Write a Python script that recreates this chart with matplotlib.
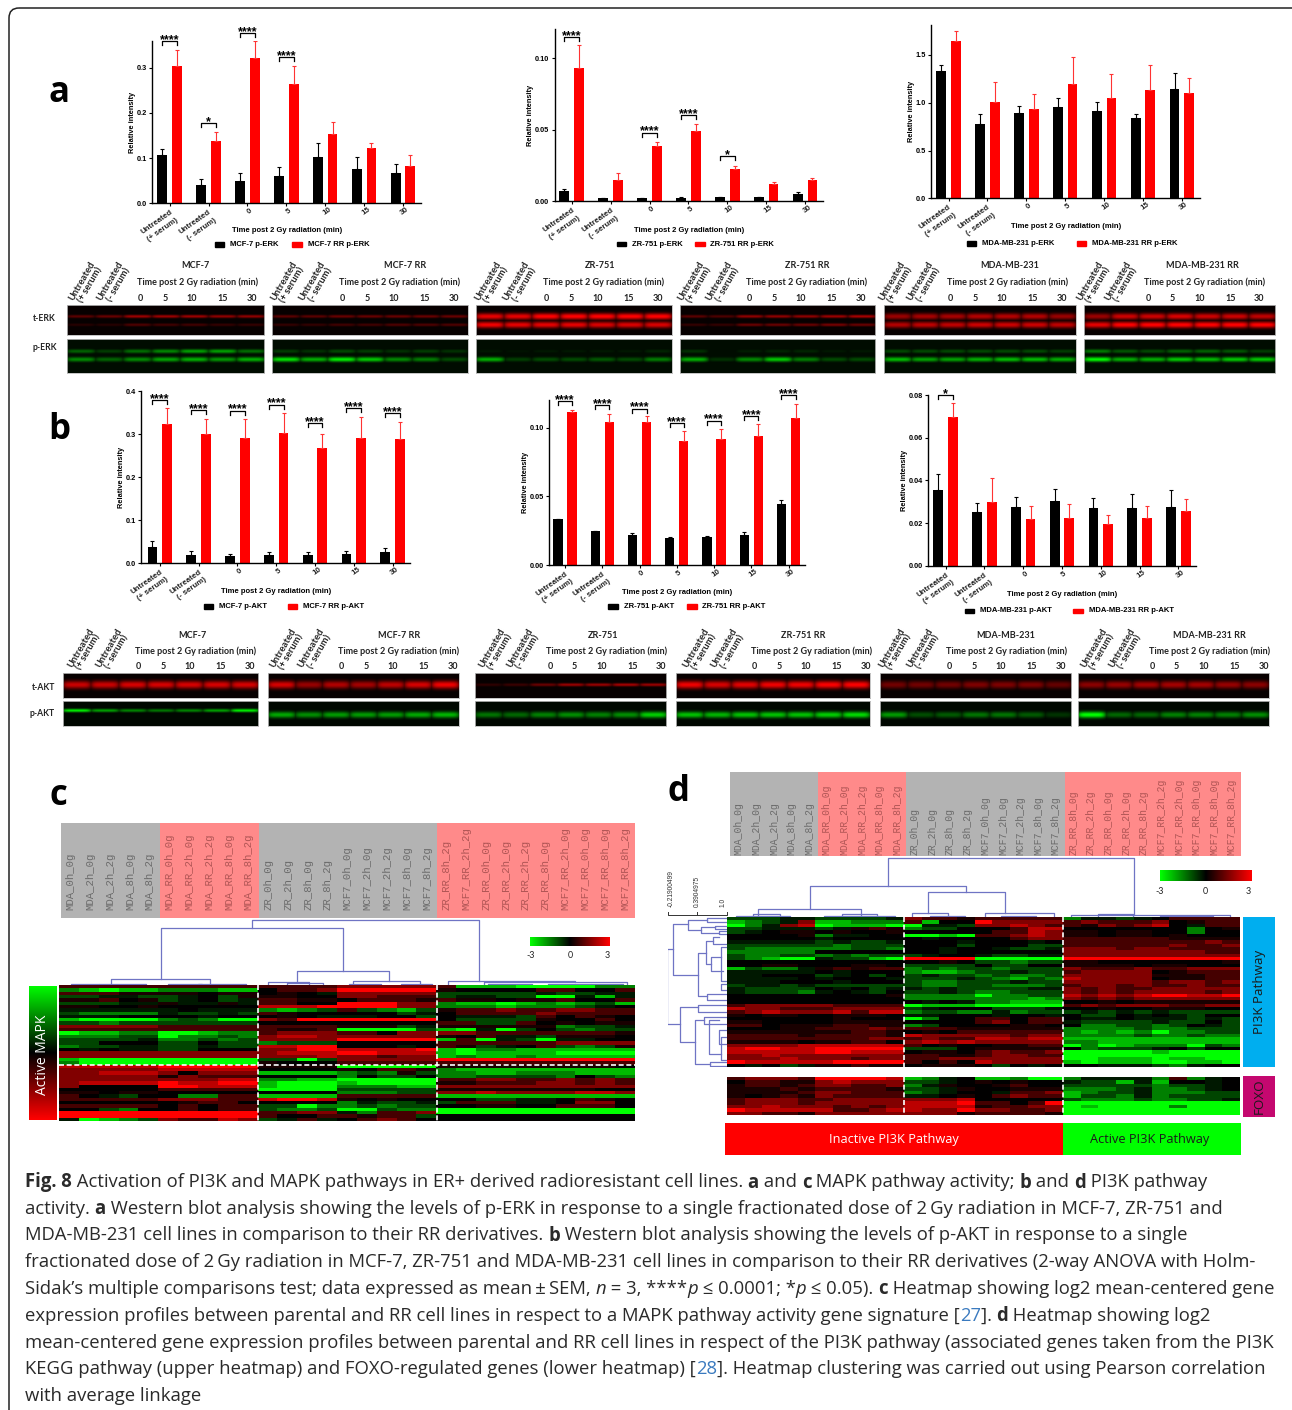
"""Recreate the multi-panel figure: bar charts, western blots, heatmaps, caption."""
import re

import matplotlib
matplotlib.use("Agg")
import matplotlib.pyplot as plt
import numpy as np
from matplotlib.colors import LinearSegmentedColormap
from matplotlib.patches import FancyBboxPatch, Rectangle
from matplotlib.transforms import ScaledTranslation

WIDTH, HEIGHT = 1292, 1410
BAR_FONT = "Liberation Sans"
BLOT_FONT = "Lato"
CAP_FONT = "Open Sans"
DENDRO = "#6f74c4"

CATEGORIES = ["Untreated\n(+ serum)", "Untreated\n(- serum)", "0", "5", "10", "15", "30"]
LANES = ["0", "5", "10", "15", "30"]
TIME_LABEL = "Time post 2 Gy radiation (min)"

# ---- panel a, p-ERK
ERK_MCF7_P = [0.107, 0.041, 0.050, 0.060, 0.102, 0.076, 0.066]
ERK_MCF7_P_TOP = [0.120, 0.054, 0.066, 0.080, 0.134, 0.103, 0.087]
ERK_MCF7_RR = [0.303, 0.137, 0.321, 0.265, 0.154, 0.123, 0.083]
ERK_MCF7_RR_TOP = [0.340, 0.157, 0.359, 0.305, 0.181, 0.133, 0.107]
ERK_MCF7_BR = [(0, 0.359, "****"), (1, 0.177, "*"), (2, 0.377, "****"), (3, 0.324, "****")]

ERK_ZR_P = [0.0072, 0.0021, 0.0021, 0.0024, 0.0028, 0.0028, 0.0054]
ERK_ZR_P_TOP = [0.0084, 0.0026, 0.0026, 0.0029, 0.0033, 0.0033, 0.0063]
ERK_ZR_RR = [0.0932, 0.0147, 0.0385, 0.0494, 0.0224, 0.0119, 0.0147]
ERK_ZR_RR_TOP = [0.1096, 0.0198, 0.0417, 0.0538, 0.0249, 0.0138, 0.0165]
ERK_ZR_BR = [(0, 0.115, "****"), (2, 0.048, "****"), (3, 0.0604, "****"), (4, 0.0315, "*")]

ERK_MDA_P = [1.327, 0.780, 0.892, 0.958, 0.910, 0.840, 1.140]
ERK_MDA_P_TOP = [1.390, 0.885, 0.970, 1.052, 1.003, 0.878, 1.310]
ERK_MDA_RR = [1.650, 1.007, 0.937, 1.200, 1.049, 1.129, 1.105]
ERK_MDA_RR_TOP = [1.750, 1.216, 1.094, 1.480, 1.296, 1.397, 1.258]

# ---- panel b, p-AKT
AKT_MCF7_P = [0.0365, 0.0194, 0.0160, 0.0186, 0.0186, 0.0200, 0.0264]
AKT_MCF7_P_TOP = [0.0505, 0.0280, 0.0210, 0.0250, 0.0256, 0.0280, 0.0357]
AKT_MCF7_RR = [0.324, 0.300, 0.291, 0.302, 0.268, 0.292, 0.288]
AKT_MCF7_RR_TOP = [0.360, 0.336, 0.335, 0.350, 0.300, 0.341, 0.329]
AKT_MCF7_BR = [(0, 0.380, "****"), (1, 0.357, "****"), (2, 0.355, "****"), (3, 0.369, "****"),
               (4, 0.325, "****"), (5, 0.360, "****"), (6, 0.349, "****")]

AKT_ZR_P = [0.0333, 0.0245, 0.0218, 0.0197, 0.0204, 0.0221, 0.0444]
AKT_ZR_P_TOP = [0.0335, 0.0250, 0.0235, 0.0206, 0.0211, 0.0243, 0.0476]
AKT_ZR_RR = [0.1114, 0.1044, 0.1044, 0.0903, 0.0922, 0.0939, 0.1070]
AKT_ZR_RR_TOP = [0.1131, 0.1102, 0.1083, 0.0978, 0.0988, 0.1029, 0.1175]
AKT_ZR_BR = [(0, 0.1197, "****"), (1, 0.1165, "****"), (2, 0.1140, "****"), (3, 0.1032, "****"),
             (4, 0.1053, "****"), (5, 0.1087, "****"), (6, 0.1238, "****")]

AKT_MDA_P = [0.0356, 0.0253, 0.0277, 0.0305, 0.0270, 0.0269, 0.0275]
AKT_MDA_P_TOP = [0.0430, 0.0294, 0.0320, 0.0361, 0.0316, 0.0334, 0.0353]
AKT_MDA_RR = [0.0695, 0.0297, 0.0219, 0.0225, 0.0195, 0.0222, 0.0258]
AKT_MDA_RR_TOP = [0.0764, 0.0411, 0.0281, 0.0291, 0.0239, 0.0278, 0.0311]
AKT_MDA_BR = [(0, 0.080, "*")]

# ---- blots: band intensity per lane, one list per blot
BLOT_NAMES = ["MCF-7", "MCF-7 RR", "ZR-751", "ZR-751 RR", "MDA-MB-231", "MDA-MB-231 RR"]
ERK_T_UPPER = [[.35, .4, .6, .6, .6, .55, .55], [.35, .35, .4, .4, .4, .4, .4],
               [.9, .9, 1, 1, 1, 1, 1], [.35, .3, .55, .55, .55, .6, .65],
               [.6, .65, .65, .7, .7, .7, .6], [.6, .8, .8, .85, .8, .8, .75]]
ERK_T_LOWER = [[.15, .15, .3, .25, .25, .2, .2], [.2, .2, .25, .25, .3, .3, .3],
               [.95, .9, .9, .9, .85, .85, .85], [.2, .2, .4, .4, .4, .45, .4],
               [.7, .75, .75, .8, .8, .8, .75], [.9, 1, 1, 1, 1, 1, 1]]
ERK_P_UPPER = [[.4, .25, .45, .55, .65, .65, .45], [.25, .2, .3, .25, .2, .25, .2],
               [.1, .08, .1, .1, .1, .1, .15], [.2, .05, .12, .15, .15, .1, .1],
               [.3, .3, .3, .3, .3, .3, .25], [.5, .35, .3, .4, .4, .35, .25]]
ERK_P_LOWER = [[.55, .4, .55, .65, .7, .6, .7], [.9, .7, .95, .8, .55, .5, .3],
               [.7, .25, .3, .3, .35, .3, .5], [.7, .2, .55, .8, .5, .3, .3],
               [.75, .65, .65, .7, .75, .75, .7], [1, .7, .7, .8, .75, .8, .8]]
AKT_T_BAND = [[.8, .8, .85, .85, .85, .85, .85], [.85, .6, .7, .65, .75, .85, .95],
              [.2, .25, .45, .65, .65, .7, .65], [.95, .85, .9, .95, .95, 1, 1],
              [.45, .45, .45, .5, .5, .5, .4], [.55, .6, .65, .65, .65, .6, .55]]
AKT_P_BAND = [[.9, .6, .5, .45, .5, .6, .9], [.65, .55, .6, .6, .6, .65, .7],
              [.45, .4, .5, .55, .5, .55, .8], [.75, .7, .75, .75, .75, .8, .85],
              [.6, .3, .35, .45, .45, .35, .2], [1, .4, .4, .5, .5, .5, .55]]

# ---- heatmaps: one letter per cell; upper case green, lower case red, '.' black
LEVELS = {"A": -3, "B": -2.2, "C": -1.5, "D": -0.8, "E": -0.3, ".": 0,
          "e": 0.3, "d": 0.8, "c": 1.5, "b": 2.2, "a": 3}
HEAT_C = [
    "ddddd ddddd dddd ccccc dBBBAAAACC",
    "CBABB CCCBB .ddc aaaaa e....dd..d",
    "dddee ee.ee .e.E ccccc DDDDDEDDEE",
    "DDEED DE.De ee.. ccddd DEEDDAAEBE",
    "eed.e DE.DE ddee .ddde dee.eed..d",
    "DDDEE eEEeE dd.. aaacc CBBABCBCDB",
    "ee..e ..... bbba aaacc CCCBCCCDE.",
    "EEEEE E.EEE CBCD dDCBD eddcddccdd",
    "DCCCC EDDED de.. ...DE .ddddcdddd",
    "EEE.. ..E.. .e.E EE..D .EEEDd.de.",
    "BAAAA CDCAA cdaa aaaaa .DDDDe..d.",
    "DDCDD DDDDD .... ..... ddDDd.e.ee",
    "ccccc ddddd dddd eeeDE eeeeeeCDDE",
    "ddddd ddddd deed AAAAD BAEAD.DCDD",
    "ABBCC AABCC dccc dd.cc ccddddddde",
    "CCCDD ACCDC cbbc ccccc e.dEEDeee.",
    "DDDDE CCDCD cccc aaaaa BdAEDAEE..",
    "DD... DD.DD CDDD ..... ddddddcccc",
    "CDDEE DDEDD bbaa ...E. deDE.dDCDe",
    ".E.EE DD... ccaa bbbba BACCBBBBBB",
    "ccccc ccccc cbbb aabbb BABBBBAAAA",
    "ccccc ccccc cccb ccdcc BCBBCBBBBB",
    "BAAAA AAAAA DDAD ccccc aaaaaaaaaa",
    "CAAAA AAAAA e... ddddd dddddddddd",
    "bbbbb aaaaa eeee AAAAA eeeeeeeee.",
    "ccccc bbbbb .... e.dde CBBBBBBBBB",
    "ccbbb c.ccc BBBB CDCeD CCBBCCCBBB",
    "ccccc ecddd .... C.DD. CCDDDDC.DC",
    "ccccc cccbb CCBB AAAAA ddccddcdcd",
    "cbbbb abbaa BAAA BAAAA eedddccdcd",
    "c.... aabbb BAAA CCCBB cccccccccc",
    "..... ddddd AAAA DDDDD eeeeeeee..",
    "ee.ee ..... .... CCCDD ccbccccbbc",
    "d.ED. .CCdd BBBB ddddd BBBBBBBBBB",
    "ddddd cccdd baab e.e.. ..DDEE.de.",
    "..... .edd. .... CEDDE DdddEE.cc.",
    "ddddd .d.dd DDAC CDCDD ..ee..ddd.",
    "..DC. .d.dd DCCD AADCC AAAAAAAAAA",
    "aaaaa aaaaa ddcc ECddc AAAAAAAAAA",
    "aaaaa aaaaa d..d deddD ..........",
    "EABCD cddbc DEdE .dcd. ..........",
]
HEAT_D = [
    "DDDEE DDDDE cdde ddddd CEEDE.dddd",
    "BCDEc BBCCC dB.. acccc dcdddc.edd",
    "ACEcb ABBBA AEED ccbcd decdcb.Edd",
    "DDEEE DEede CDD. ..dbb .......C.e",
    "DE.ee .e..e .... .ddbc ee.ee..C..",
    "....e CEE.. AABA ddcbc ee.ee.e...",
    "..... E.... .E.. ..dcc ddddddeeee",
    "EEEEE DEDDE ...E ...E. ddddddddcd",
    "DDDDD DCDDD ...D ...DD ddddddcddc",
    "DCCCC CCDDC ..E. .EDDE cccdccdddd",
    "CCCCC ..... ..E. ..... ccccccccdd",
    "DCCDD CDCDD DE.. EDDEE cccccccccc",
    "DCBAA EDDBA aaaa AAAAA aaaaaaaaaa",
    "..... ..... ..e. DDCDD ee.......e",
    "..ee. ..ee. DDDD .DD.. eeee.ee...",
    "BDCCE ededd CDCD DCDDD cdddcddccc",
    "EEEEE .E... CBBC DDEDD dcccc.eddd",
    "EE... DE.D. DEDD CDCCD ccccceeedd",
    "EEEE. E...E DDDE DCBDC bcccc.eedd",
    "EEE.. .E... DCCD DDEDD cccccdccdc",
    "DEEDE DDDDD DCCD DCCCD dccdcddcdd",
    "EDDDD .E.DE EDED DDDEE cdcddccccc",
    "EDDDC E.ED. DDED CCDDD cdcdccccdc",
    "..... ....e CCCC ACCDD bcbcbaabba",
    "..... ..... CCCC CCCBC cdcdcccccc",
    "..... ..... .E.E CCBBB ..e.eeeeee",
    "dcccc cdddd ABBB AAAAA dcdcccddcc",
    "bccdd dcccc DE.. .DDDE ..e..eee..",
    "dcbcc cbdbb CDDC CECDD DEDEDEDDDD",
    "e.ee. .eee. EE.. .E..E .DD.E.ED..",
    "..... .e... AC.. dd.dd .EE.EEEDED",
    "ee... .eeee .... dc.dd EDDDDEDD.D",
    "dd.ee eddee CD.. ..ee. .CCDDCD.ED",
    "...ee dddcd ddde eeeee CCCCDCCDDD",
    "eeeee eedde .e.d ddddd CBCBCACCDD",
    "dddde dddde bccc ccdcc CCCCDCCDCC",
    "ddddd dddcc dcdd bbcbb BBBBBBBBBB",
    "eeee. eedd. cbcb ccccc CCBBBBBBBB",
    "ccccb bbbbb d.e. .eedd ACABCCCADC",
    "baabb aaaaa DDD. eeeee .CDDDE.D..",
    "bbbbb aabbb .ee. dcddc AAAAABAAAA",
    "ccbcc ccccc ddee dccdd AAAAAAAAAA",
    "cccbc ccdcc ddcc ccccc AABBBABBAA",
    "abbbb baaaa d.d. bcccc BABBBAABBA",
    ".E.DE eedee .eee .D.E. ..EEEDCE..",
]
HEAT_FOXO = [
    "dcccd aaaab BCE. BBCAA CEEEECdCE.",
    ".ddee cbccc DDE. e.e.. EDDBEB..E.",
    "edded ccddc CEe. .ed.. DDDDDCDDE.",
    "eeede dddde DDEe ..eee CCCDECCDE.",
    "eeeed ccddd CDE. .Eddc BCDDECCCDD",
    "e.ede cdddd EE.e .dcdd BDDCECDDDD",
    "dcccd dcccc cccb ..... DCCCDCCDDE",
    "dcccd ccccc bbba dd.da AAAAAAAAAA",
    "ccbcc cdcdc bbbb eddcc ABAAAACAAA",
    "abbbb bddcb bcca ccddc AAAAAAAAAA",
    "ccdde ccccc ccce dddde AAAAAAAAAA",
]

LABELS_C = ["MDA_0h_0g", "MDA_2h_0g", "MDA_2h_2g", "MDA_8h_0g", "MDA_8h_2g",
            "MDA_RR_0h_0g", "MDA_RR_2h_0g", "MDA_RR_2h_2g", "MDA_RR_8h_0g", "MDA_RR_8h_2g",
            "ZR_0h_0g", "ZR_2h_0g", "ZR_8h_0g", "ZR_8h_2g",
            "MCF7_0h_0g", "MCF7_2h_0g", "MCF7_2h_2g", "MCF7_8h_0g", "MCF7_8h_2g",
            "ZR_RR_8h_2g", "MCF7_RR_2h_2g", "ZR_RR_0h_0g", "ZR_RR_2h_0g", "ZR_RR_2h_2g",
            "ZR_RR_8h_0g", "MCF7_RR_2h_0g", "MCF7_RR_0h_0g", "MCF7_RR_8h_0g", "MCF7_RR_8h_2g"]
LABELS_D = LABELS_C[:19] + ["ZR_RR_8h_0g", "ZR_RR_2h_2g", "ZR_RR_0h_0g", "ZR_RR_2h_0g", "ZR_RR_8h_2g",
                            "MCF7_RR_2h_2g", "MCF7_RR_2h_0g", "MCF7_RR_0h_0g", "MCF7_RR_8h_0g", "MCF7_RR_8h_2g"]
# column groups: grey, pink, grey, pink
GROUP_SPLITS = [0, 5, 10, 19, 29]

# dendrogram links: position a, position b, height, drop height at a, at b
DEND_C = [(9.72, 21.16, 65.6, 57, 4.6), (5.12, 14.32, 57, 6, 14.6), (2.63, 7.62, 6, 1, 1),
          (12.0, 16.6, 14.6, 3.3, 4.6), (0.6, 2.0, 1, 0, 0), (2.0, 4.4, 1.5, .5, 0),
          (5.5, 7.2, 1.5, 0, 0), (7.0, 9.4, 1.5, 0, 0), (10.5, 12.6, 3.3, 0, 0),
          (11.5, 13.3, 2, 0, 0), (14.8, 18.2, 4.6, 1.5, 1), (14.6, 16.2, 1.5, 0, 0),
          (17.2, 18.8, 1, 0, 0), (19.6, 26, 4.6, 0, 3), (21.4, 28.6, 3, 1.5, 1),
          (21.6, 23.8, 1.5, 0, 0), (24.6, 26.8, 1.5, 0, 0), (26.8, 28.4, 1, 0, 0)]
DEND_D = [(9.12, 23.03, 59, 31.3, 2.3), (4.69, 13.56, 31.3, 8, 25.6), (11.39, 15.75, 25.6, 4.6, 4.3),
          (1.77, 7.6, 8, 1.5, 1.5), (0.5, 3.6, 1.5, 0, 0), (1.5, 3, 3, 1.5, 0),
          (5.5, 9.5, 1.5, 0, 0), (6.5, 8.5, 3, 1.5, 0), (10.5, 12.5, 4.6, 0, 1.5),
          (11.5, 13.5, 1.5, 0, 0), (14.6, 18.5, 4.3, 0, 1), (15.5, 17.5, 1.5, 0, 0),
          (19.5, 28.5, 2.3, 0, 0), (21, 23, 3.5, 0, 0), (24.5, 27.5, 1.5, 0, 0)]
DEND_ROWS = [(9.6, 32.2, 59.3, 54, 46.3), (2.1, 17.3, 54, 38.3, 29), (27.1, 37.4, 46.3, 29, 31.3),
             (0.8, 3.8, 38.3, 20, 25.7), (10.8, 23.8, 29, 20.7, 20), (23, 25, 20, 0, 0),
             (30.8, 44.1, 31.3, 22.3, 16.7), (43.6, 44.6, 16.7, 0, 0), (0.3, 1.3, 20, 0, 0),
             (3, 4.6, 25.7, 12, 8), (2.6, 3.4, 12, 0, 0), (4.2, 5, 8, 0, 0),
             (7, 14, 20.7, 14, 16), (6, 8, 14, 8, 0), (12, 16, 16, 6, 4), (9, 19, 6, 0, 0),
             (26.5, 28.5, 29, 0, 0), (30, 32, 22.3, 0, 0), (31, 41, 18, 8, 6), (34, 38, 8, 0, 0),
             (36, 43, 6, 0, 0), (20, 22, 6, 0, 0)]

CAPTION = [
    "<b>Fig. 8</b> Activation of PI3K and MAPK pathways in ER+ derived radioresistant cell lines. <b>a</b> and <b>c</b> MAPK pathway activity; <b>b</b> and <b>d</b> PI3K pathway",
    "activity. <b>a</b> Western blot analysis showing the levels of p-ERK in response to a single fractionated dose of 2\u2009Gy radiation in MCF-7, ZR-751 and",
    "MDA-MB-231 cell lines in comparison to their RR derivatives. <b>b</b> Western blot analysis showing the levels of p-AKT in response to a single",
    "fractionated dose of 2\u2009Gy radiation in MCF-7, ZR-751 and MDA-MB-231 cell lines in comparison to their RR derivatives (2-way ANOVA with Holm-",
    "Sidak\u2019s multiple comparisons test; data expressed as mean\u2009\u00b1\u2009SEM, <i>n</i> = 3, ****<i>p</i> \u2264 0.0001; *<i>p</i> \u2264 0.05). <b>c</b> Heatmap showing log2 mean-centered gene",
    "expression profiles between parental and RR cell lines in respect to a MAPK pathway activity gene signature [<c>27</c>]. <b>d</b> Heatmap showing log2",
    "mean-centered gene expression profiles between parental and RR cell lines in respect of the PI3K pathway (associated genes taken from the PI3K",
    "KEGG pathway (upper heatmap) and FOXO-regulated genes (lower heatmap) [<c>28</c>]. Heatmap clustering was carried out using Pearson correlation",
    "with average linkage",
]

HEAT_CMAP = LinearSegmentedColormap.from_list("gbr", ["#00ff00", "#000000", "#ff0000"])


def px_axes(fig, x0, y0, x1, y1, **kwargs):
    return fig.add_axes([x0 / WIDTH, 1 - y1 / HEIGHT, (x1 - x0) / WIDTH, (y1 - y0) / HEIGHT], **kwargs)


def draw_bars(fig, box, first_tick, spacing, ymax, yticks, fmt, black, black_top, red, red_top, brackets=()):
    x0, x1, y_top, y_base = box
    ax = px_axes(fig, x0, y_top, x1, y_base, facecolor="none")
    ax.set_xlim((x0 - first_tick) / spacing, (x1 - first_tick) / spacing)
    ax.set_ylim(0, ymax)
    x = np.arange(len(black))
    off, w = 0.189, 0.25
    for xs, vals, tops, col in [(x - off, black, black_top, "black"), (x + off, red, red_top, "#ff0000")]:
        vals = np.array(vals)
        ax.bar(xs, vals, w, color=col)
        ax.errorbar(xs, vals, yerr=[np.zeros(len(vals)), np.array(tops) - vals], fmt="none",
                    ecolor=col if col == "black" else "#ff3333", elinewidth=0.8, capsize=1.6, capthick=0.8)
    ax.set_yticks(yticks)
    ax.set_yticklabels([fmt % t for t in yticks], fontsize=5.3, fontweight="bold", family=BAR_FONT)
    ax.set_xticks(x)
    labels = ax.set_xticklabels(CATEGORIES, fontsize=5.7, fontweight="bold", family=BAR_FONT, rotation=35,
                                ha="right", va="top", rotation_mode="anchor", color="#222222")
    # the long labels sit to the right of their tick in the reference
    for k, lab in enumerate(labels):
        if k < 2:
            lab.set_linespacing(1.45)
            shift = ScaledTranslation(16 / 100, -2 / 100, fig.dpi_scale_trans)
        else:
            lab.set_ha("center")
            shift = ScaledTranslation(-1 / 100, -6 / 100, fig.dpi_scale_trans)
        lab.set_transform(lab.get_transform() + shift)
    ax.tick_params(axis="both", length=2.5, width=0.8, pad=1.5)
    for side in ("top", "right"):
        ax.spines[side].set_visible(False)
    for side in ("left", "bottom"):
        ax.spines[side].set_linewidth(1.0)
    ax.set_ylabel("Relative intensity", fontsize=5.3, fontweight="bold", family=BAR_FONT, labelpad=0.5)

    drop = ymax * 4 / (y_base - y_top)
    for idx, top, stars in brackets:
        xl, xr = idx - off, idx + off
        ax.plot([xl, xl, xr, xr], [top - drop, top, top, top - drop], color="black", lw=0.9, clip_on=False)
        ax.text(idx, top - drop * 0.5, stars, ha="center", va="baseline", fontsize=9, fontweight="bold",
                family=BAR_FONT, clip_on=False)
    return ax


def bar_footer(ov, label_x, label_y, legend_y, black_x, red_x, black_name, red_name):
    ov.text(label_x, label_y, TIME_LABEL, ha="center", va="center", fontsize=5.5, fontweight="bold", family=BAR_FONT)
    for px, col, name in [(black_x, "black", black_name), (red_x, "#ff0000", red_name)]:
        ov.add_patch(Rectangle((px, legend_y - 2.3), 9.5, 4.6, color=col))
        ov.text(px + 15.5, legend_y, name, ha="left", va="center", fontsize=5.5, fontweight="bold", family=BAR_FONT)


def band_image(nx, ny, bands, colour, background):
    """bands: (relative y, sigma, intensities per lane)."""
    xx = (np.arange(nx) + 0.5) / nx * 7
    yy = (np.arange(ny) + 0.5) / ny
    field = np.full((ny, nx), background)
    for pos, sigma, levels in bands:
        profile = np.exp(-((yy - pos) / sigma) ** 2)
        lane = np.zeros(nx)
        for i, level in enumerate(levels):
            lane = np.maximum(lane, level * np.exp(-((xx - i - 0.5) / 0.52) ** 6))
        field = np.maximum(field, np.outer(profile, lane))
    img = np.zeros((ny, nx, 3))
    img[:, :, colour] = np.clip(field, 0, 1)
    return img


def draw_blot(fig, box, bands, colour, background=0.03):
    x0, x1, y0, y1 = box
    ax = px_axes(fig, x0, y0, x1, y1)
    ax.imshow(band_image(int(x1 - x0), int(y1 - y0), bands, colour, background),
              aspect="auto", interpolation="bilinear")
    ax.set_xticks([])
    ax.set_yticks([])
    for sp in ax.spines.values():
        sp.set_color("#bbbbbb")
        sp.set_linewidth(0.6)


def blot_header(ov, name, title_x, time_x, y_title, y_time, y_lane, y_untreated):
    txt = dict(family=BLOT_FONT, fontweight="bold", color="#222222")
    ov.text(title_x, y_title, name, ha="center", va="center", fontsize=6.5, **txt)
    ov.text(time_x, y_time, TIME_LABEL, ha="center", va="center", fontsize=6.5, **txt)
    for offset, lane in zip([-56.9, -32.5, -5.7, 25.3, 54.3], LANES):
        ov.text(time_x + offset, y_lane, lane, ha="center", va="center", fontsize=6.5, **txt)
    for offset, cat in zip([-111, -83], CATEGORIES[:2]):
        ov.text(time_x + offset, y_untreated, cat, ha="center", va="center", rotation=60,
                fontsize=6.8, linespacing=1.05, **txt)


def decode(rows):
    cells = [[LEVELS[ch] for ch in row.replace(" ", "")] for row in rows]
    assert all(len(c) == 29 for c in cells), [len(c) for c in cells]
    return np.array(cells, dtype=float)


def draw_heat(fig, box, rows):
    x0, x1, y0, y1 = box
    ax = px_axes(fig, x0, y0, x1, y1)
    ax.imshow(decode(rows), cmap=HEAT_CMAP, vmin=-3, vmax=3, aspect="auto", interpolation="nearest")
    ax.axis("off")
    return ax


def sample_labels(ov, box, labels, fontsize, text_bottom):
    x0, x1, y0, y1 = box
    w = (x1 - x0) / len(labels)
    for k in range(len(GROUP_SPLITS) - 1):
        a, b = GROUP_SPLITS[k], GROUP_SPLITS[k + 1]
        col = "#b3b3b3" if k % 2 == 0 else "#ff8a8a"
        ov.add_patch(Rectangle((x0 + a * w, y0), (b - a) * w, y1 - y0, color=col, lw=0))
        tcol = "#6b6b6b" if k % 2 == 0 else "#b05555"
        for i in range(a, b):
            ov.text(x0 + (i + 0.5) * w, text_bottom, labels[i], rotation=90, ha="center", va="bottom",
                    family="Liberation Mono", fontsize=fontsize, color=tcol)


def draw_dendro(fig, box, links, n, rows=False):
    x0, x1, y0, y1 = box
    ax = px_axes(fig, x0, y0, x1, y1, facecolor="none")
    ax.axis("off")
    if rows:
        ax.set_ylim(n, 0)
        ax.set_xlim(x1 - x0, 0)
        for a, b, h, ha, hb in links:
            ax.plot([ha, h, h, hb], [a, a, b, b], color=DENDRO, lw=0.9)
    else:
        ax.set_xlim(0, n)
        ax.set_ylim(0, y1 - y0)
        for a, b, h, ha, hb in links:
            ax.plot([a, a, b, b], [ha, h, h, hb], color=DENDRO, lw=0.9)


def colour_key(fig, ov, box, xs, y):
    x0, x1, y0, y1 = box
    ax = px_axes(fig, x0, y0, x1, y1)
    ax.imshow(np.linspace(-3, 3, 200)[None, :], cmap=HEAT_CMAP, aspect="auto", vmin=-3, vmax=3)
    ax.axis("off")
    for px, t in zip(xs, ["-3", "0", "3"]):
        ov.text(px, y, t, ha="center", va="center", fontsize=6.4, family=BLOT_FONT, color="#222222")


def dashed(ov, xs, ys):
    ov.plot(xs, ys, color="white", lw=1.2, ls=(0, (3, 1.6)))


def split_rich(line):
    out = []
    for part in re.split(r"(<[bic]>.*?</[bic]>)", line):
        if not part:
            continue
        m = re.match(r"<([bic])>(.*)</[bic]>", part)
        out.append((m.group(1), m.group(2)) if m else ("", part))
    return out


def caption(fig, ov):
    renderer = fig.canvas.get_renderer()
    probe = dict(fontsize=13.33, family=CAP_FONT, color="#2a2a2a")
    y = 1180.0
    for line in CAPTION:
        x = 25.0
        for tag, piece in split_rich(line):
            kw = dict(probe)
            if tag == "b":
                kw["fontweight"] = "bold"
            elif tag == "i":
                kw["fontstyle"] = "italic"
            elif tag == "c":
                kw["color"] = "#3a7abf"
            ov.text(x, y, piece, ha="left", va="center_baseline", **kw)
            bar = ov.text(0, 0, "|", **kw)
            both = ov.text(0, 0, piece + "|", **kw)
            width = both.get_window_extent(renderer).width - bar.get_window_extent(renderer).width
            bar.remove()
            both.remove()
            x += width
        y += 26.75


def main():
    fig = plt.figure(figsize=(WIDTH / 100, HEIGHT / 100), dpi=100, facecolor="white")

    # bar charts, panel a
    draw_bars(fig, (152.4, 421, 40.7, 203.3), 169.6, 38.9, 0.36, [0, .1, .2, .3], "%.1f",
              ERK_MCF7_P, ERK_MCF7_P_TOP, ERK_MCF7_RR, ERK_MCF7_RR_TOP, ERK_MCF7_BR)
    draw_bars(fig, (554.5, 822.7, 29.3, 201.3), 571.7, 38.9, 0.1203, [0, .05, .10], "%.2f",
              ERK_ZR_P, ERK_ZR_P_TOP, ERK_ZR_RR, ERK_ZR_RR_TOP, ERK_ZR_BR)
    draw_bars(fig, (931.2, 1200, 25.3, 198.3), 948.5, 38.9, 1.81, [0, .5, 1, 1.5], "%.1f",
              ERK_MDA_P, ERK_MDA_P_TOP, ERK_MDA_RR, ERK_MDA_RR_TOP)
    # bar charts, panel b
    draw_bars(fig, (141.4, 410.4, 391.3, 563), 159.8, 38.8, 0.4, [0, .1, .2, .3, .4], "%.1f",
              AKT_MCF7_P, AKT_MCF7_P_TOP, AKT_MCF7_RR, AKT_MCF7_RR_TOP, AKT_MCF7_BR)
    draw_bars(fig, (549.2, 805, 400, 565), 565, 37.25, 0.1203, [0, .05, .10], "%.2f",
              AKT_ZR_P, AKT_ZR_P_TOP, AKT_ZR_RR, AKT_ZR_RR_TOP, AKT_ZR_BR)
    draw_bars(fig, (928.4, 1196.4, 395, 565.7), 945.6, 38.8, 0.08, [0, .02, .04, .06, .08], "%.2f",
              AKT_MDA_P, AKT_MDA_P_TOP, AKT_MDA_RR, AKT_MDA_RR_TOP, AKT_MDA_BR)

    # blots
    erk_x = [(66.7, 263.9), (272.4, 467.6), (475.7, 671.7), (679.7, 875), (884.2, 1076.2), (1083.5, 1274.7)]
    akt_x = [(62.7, 258.2), (268, 459), (474.9, 666.4), (676, 869.7), (879.8, 1071), (1078.2, 1269)]
    erk_title = [195, 405.5, 599.8, 807.5, 1009.5, 1202.4]
    erk_time = [197.3, 399.4, 603.5, 806.6, 1007.5, 1205]
    akt_title = [192.4, 399.4, 603.5, 803.4, 1005.5, 1209.2]
    akt_time = [195.7, 398.6, 607, 811.5, 1006.7, 1209.2]
    for i, (x0, x1) in enumerate(erk_x):
        sig = 0.11 if i in (2, 4, 5) else 0.055
        draw_blot(fig, (x0, x1, 305, 335), [(0.38, sig, ERK_T_UPPER[i]), (0.66, sig, ERK_T_LOWER[i])], 0)
        draw_blot(fig, (x0, x1, 339, 372.7), [(0.36, 0.06, ERK_P_UPPER[i]), (0.6, 0.07, ERK_P_LOWER[i])], 1, 0.05)
    for i, (x0, x1) in enumerate(akt_x):
        sig = 0.16 if i in (0, 1, 3, 4, 5) else 0.06
        draw_blot(fig, (x0, x1, 673.3, 697.7), [(0.47, sig, AKT_T_BAND[i])], 0)
        draw_blot(fig, (x0, x1, 701, 726), [(0.55 if i else 0.38, 0.13 if i else 0.07, AKT_P_BAND[i])], 1)

    # heatmaps
    draw_heat(fig, (59, 635, 985.3, 1121), HEAT_C)
    draw_heat(fig, (726.7, 1239, 917.3, 1067), HEAT_D)
    draw_heat(fig, (726.7, 1239, 1077.3, 1115), HEAT_FOXO)
    draw_dendro(fig, (59, 635, 915, 985.3), DEND_C, 29)
    draw_dendro(fig, (726.7, 1239, 855, 917.3), DEND_D, 29)
    draw_dendro(fig, (668.4, 726.7, 917.3, 1067), DEND_ROWS, 45, rows=True)

    # overlay in reference pixels for text, boxes and labels
    ov = fig.add_axes([0, 0, 1, 1], facecolor="none", zorder=10)
    ov.set_xlim(0, WIDTH)
    ov.set_ylim(HEIGHT, 0)
    ov.axis("off")

    ov.add_patch(FancyBboxPatch((9, 8), 1300, 1440, boxstyle="round,pad=0,rounding_size=10",
                                fc="none", ec="#222222", lw=1.1))
    for letter, x, y in [("a", 59.4, 93), ("b", 59.4, 430), ("c", 58, 796), ("d", 678.6, 792)]:
        ov.text(x, y, letter, fontsize=25, fontweight="bold", family="Open Sans", ha="center", va="center")

    bar_footer(ov, 287, 230, 244.3, 214.5, 292, "MCF-7 p-ERK", "MCF-7 RR p-ERK")
    bar_footer(ov, 689, 230, 244, 616.5, 695, "ZR-751 p-ERK", "ZR-751 RR p-ERK")
    bar_footer(ov, 1066, 226.7, 243.7, 966.5, 1076.6, "MDA-MB-231 p-ERK", "MDA-MB-231 RR p-ERK")
    bar_footer(ov, 276.5, 591.7, 606.3, 203.9, 287.6, "MCF-7 p-AKT", "MCF-7 RR p-AKT")
    bar_footer(ov, 677, 592.7, 606.7, 608, 687, "ZR-751 p-AKT", "ZR-751 RR p-AKT")
    bar_footer(ov, 1062.6, 594.7, 611, 964.5, 1073.4, "MDA-MB-231 p-AKT", "MDA-MB-231 RR p-AKT")

    for i, name in enumerate(BLOT_NAMES):
        blot_header(ov, name, erk_title[i], erk_time[i], 266, 282.7, 298.7, 283)
        blot_header(ov, name, akt_title[i], akt_time[i], 635, 651.3, 666.7, 650)
    side = dict(family=BLOT_FONT, fontweight="bold", fontsize=6.2, ha="center", va="center", color="#222222")
    ov.text(44.5, 318.7, "t-ERK", **side)
    ov.text(44.5, 347, "p-ERK", **side)
    ov.text(44, 687, "t-AKT", **side)
    ov.text(42, 713, "p-AKT", **side)

    sample_labels(ov, (60.6, 635, 823.3, 918.3), LABELS_C, 7.7, 910)
    sample_labels(ov, (730, 1240.6, 771.7, 856), LABELS_D, 7.0, 855)
    colour_key(fig, ov, (530.2, 609.8, 937, 946), [530.6, 570, 607.4], 955)
    colour_key(fig, ov, (1160.2, 1251.2, 870.3, 880.7), [1160, 1205.5, 1248], 892)

    # side boxes of the heatmaps
    km = px_axes(fig, 28.8, 985.7, 56.2, 1120)
    km.imshow(np.linspace(-3, 3, 200)[:, None], cmap=HEAT_CMAP, aspect="auto", vmin=-3, vmax=3)
    km.axis("off")
    ov.text(42, 1055, "Active MAPK", rotation=90, color="white", fontsize=10, family="Open Sans", ha="center", va="center")
    ov.add_patch(Rectangle((1243, 917.3), 31.5, 149.7, color="#00aeef", lw=0))
    ov.text(1259, 992, "PI3K Pathway", rotation=90, fontsize=9.6, family="Open Sans", ha="center", va="center", color="#1a1a1a")
    ov.add_patch(Rectangle((1243, 1075.7), 31.5, 41, color="#c4086f", lw=0))
    ov.text(1259, 1096, "FOXO", rotation=90, fontsize=9.6, family="Open Sans", ha="center", va="center", color="#1a1a1a")
    ov.add_patch(Rectangle((724.7, 1122.7), 338.3, 32, color="#ff0000", lw=0))
    ov.add_patch(Rectangle((1063, 1122.7), 177.6, 32, color="#00ff00", lw=0))
    ov.text(893.5, 1139, "Inactive PI3K Pathway", color="white", fontsize=9.2, family="Open Sans", ha="center", va="center")
    ov.text(1150, 1139, "Active PI3K Pathway", color="#1a1a1a", fontsize=9.2, family="Open Sans", ha="center", va="center")

    # white separators on the heatmaps
    dashed(ov, [258, 258], [985.3, 1121])
    dashed(ov, [436.6, 436.6], [985.3, 1121])
    dashed(ov, [59, 635], [1064.7, 1064.7])
    dashed(ov, [904, 904], [917.3, 1067])
    dashed(ov, [1063, 1063], [917.3, 1067])
    dashed(ov, [904, 904], [1077.3, 1115])
    dashed(ov, [1063, 1063], [1077.3, 1115])

    # distance scale of the row dendrogram
    ov.plot([668.4, 668.4, 726.7, 726.7], [911.5, 915, 915, 911.5], color="#333333", lw=0.7)
    ov.plot([697, 697], [911.5, 915], color="#333333", lw=0.7)
    for px, txt in [(671, "-0.21900499"), (697, "0.3904975"), (723.5, "1.0")]:
        ov.text(px, 907, txt, rotation=90, ha="center", va="bottom", fontsize=4.8, family=BAR_FONT, color="#333333")

    fig.canvas.draw()
    caption(fig, ov)
    fig.savefig("out.png", dpi=100)


if __name__ == "__main__":
    main()
